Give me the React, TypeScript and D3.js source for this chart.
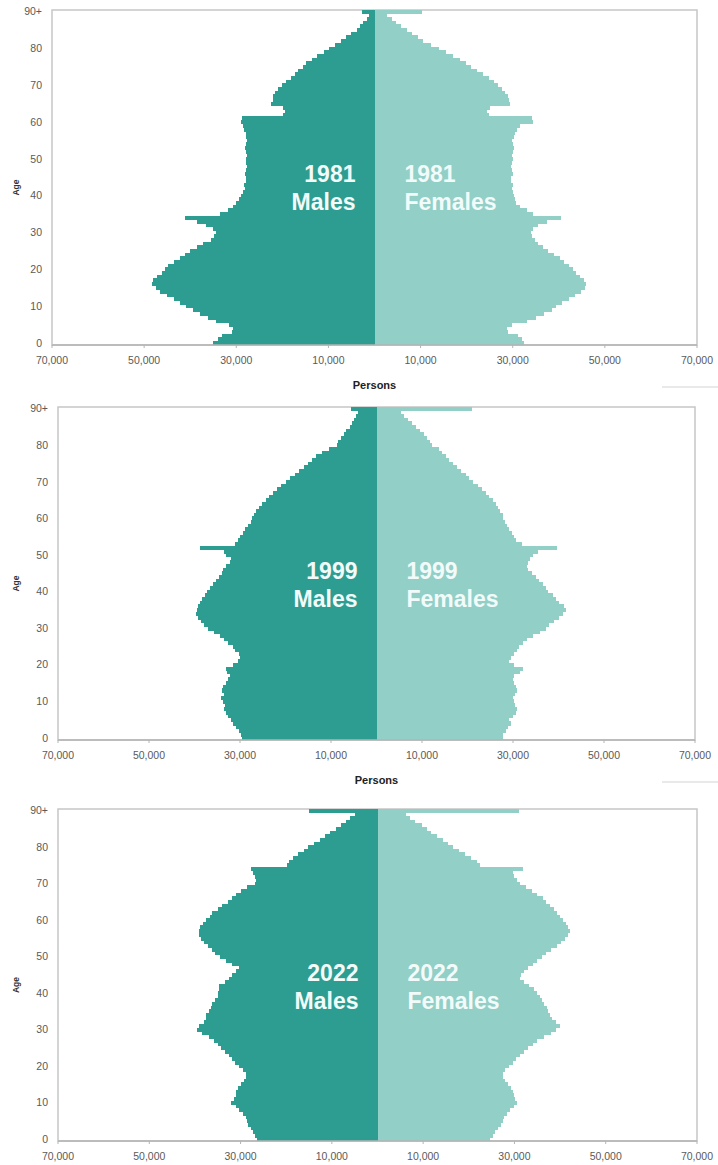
import * as d3 from 'd3';
import React, { useEffect, useRef } from 'react';

// single years of age 0..89, the last entry is 90+
const ages = d3.range(0, 91);
const ageTicks = [0, 10, 20, 30, 40, 50, 60, 70, 80, 90];
// thousands of persons, males drawn to the left
const personTicks = [-70, -50, -30, -10, 10, 30, 50, 70];

// population in thousands, index = age
const males1981 = [
  35.1, 34.0, 33.0, 31.0, 30.8, 31.5, 34.5, 36.2, 37.8, 39.5,
  41.0, 42.3, 43.5, 45.0, 46.5, 47.5, 48.4, 48.0, 47.3, 46.2,
  45.5, 44.8, 43.5, 42.3, 41.2, 40.0, 38.6, 37.2, 35.5, 34.8,
  34.3, 35.0, 36.5, 38.5, 41.1, 33.5, 31.8, 30.8, 30.0, 29.4,
  29.0, 28.6, 28.2, 28.3, 28.0, 27.8, 28.1, 27.9, 27.6, 27.8,
  28.0, 27.7, 27.9, 28.2, 27.8, 27.6, 27.9, 28.0, 28.3, 28.5,
  28.9, 28.8, 19.8, 19.5, 19.9, 22.5, 22.1, 22.0, 21.6, 21.0,
  20.0, 19.2, 18.2, 17.3, 16.6, 15.6, 14.8, 13.6, 12.4, 11.0,
  9.9, 8.6, 7.3, 6.2, 5.0, 3.9, 3.1, 2.4, 1.7, 1.1,
  2.8
];
const females1981 = [
  32.5, 32.0, 31.2, 29.0, 28.8, 29.8, 33.0, 35.1, 36.8, 38.5,
  39.5, 40.8, 42.2, 43.5, 44.8, 45.6, 46.0, 45.5, 44.5, 43.8,
  43.0, 42.2, 41.2, 40.3, 39.0, 37.6, 36.5, 35.5, 34.8, 34.2,
  34.0, 34.3, 35.5, 37.5, 40.5, 34.5, 33.0, 31.5, 30.8, 30.5,
  30.2, 30.0, 29.8, 30.0, 29.7, 29.6, 30.0, 29.8, 29.6, 29.9,
  30.1, 29.8, 30.0, 30.3, 30.0, 29.9, 30.3, 30.5, 30.9, 31.5,
  34.5, 34.2, 24.8, 24.4, 25.0, 29.4, 29.2, 28.9, 28.3, 27.6,
  26.7, 25.9, 24.8, 23.6, 22.3, 21.0, 19.8, 18.5, 17.0, 15.5,
  14.0, 12.3, 10.6, 9.4, 8.2, 7.0, 5.8, 4.7, 3.7, 2.8,
  10.4
];

const males1999 = [
  29.5, 29.8, 30.2, 30.8, 31.5, 32.0, 32.6, 33.0, 33.5, 33.2,
  33.8, 34.1, 33.6, 33.9, 33.8, 33.0, 32.6, 32.3, 32.8, 33.0,
  31.5, 30.5, 30.1, 30.3, 31.0, 31.6, 32.6, 33.5, 34.5, 35.8,
  37.0, 38.0, 38.5, 39.2, 39.6, 39.5, 39.2, 38.9, 38.3, 37.8,
  37.2, 36.7, 36.0, 35.3, 34.6, 34.0, 33.8, 33.0, 32.2, 32.0,
  33.0, 33.5, 38.9, 31.0, 30.5, 30.1, 29.4, 28.8, 28.2, 27.6,
  27.3, 26.9, 26.5, 25.8, 25.1, 24.3, 23.6, 22.8, 21.9, 21.0,
  20.0, 19.1, 18.0, 17.0, 16.0, 15.1, 14.1, 13.2, 12.0, 10.5,
  8.6, 8.4, 7.8, 7.2, 6.6, 5.9, 5.4, 4.9, 4.4, 4.0,
  5.5
];
const females1999 = [
  27.7, 27.9, 28.5, 29.0, 29.5, 29.2, 30.0, 30.7, 30.9, 30.5,
  30.2, 30.0, 30.4, 30.9, 30.7, 30.2, 30.0, 30.3, 31.5, 32.1,
  30.2, 29.2, 29.5, 30.3, 30.9, 31.4, 32.2, 33.0, 34.5, 36.0,
  37.2, 38.0, 39.0, 40.2, 41.0, 41.7, 41.2, 40.2, 39.5, 38.7,
  37.8, 37.2, 36.5, 35.8, 35.0, 34.2, 33.4, 33.0, 33.2, 33.7,
  34.5, 35.5, 39.6, 32.0, 30.7, 30.2, 29.8, 29.2, 28.6, 28.2,
  27.9, 27.7, 27.2, 26.8, 26.3, 25.6, 24.8, 24.0, 23.2, 22.3,
  21.3, 20.4, 19.6, 18.6, 17.7, 16.8, 16.0, 15.3, 14.5, 13.8,
  12.3, 11.8, 11.2, 10.5, 9.5, 8.6, 7.7, 6.9, 6.0, 5.4,
  21.0
];

const males2022 = [
  26.4, 26.8, 27.3, 27.8, 28.3, 28.6, 28.8, 29.5, 30.3, 31.0,
  32.1, 31.5, 31.0, 31.0, 30.5, 30.0, 29.3, 28.9, 28.8, 29.5,
  30.4, 31.2, 31.9, 32.5, 33.4, 34.2, 35.0, 35.8, 37.0, 38.4,
  39.6, 39.0, 38.0, 37.6, 37.6, 37.0, 36.5, 36.2, 35.6, 35.0,
  34.9, 34.7, 34.7, 33.5, 32.5, 31.9, 31.0, 30.3, 31.9, 33.2,
  34.5, 35.6, 36.3, 37.2, 38.0, 38.6, 39.0, 39.1, 38.8, 38.2,
  37.5, 36.8, 36.3, 35.0, 34.0, 32.8, 31.9, 30.9, 29.8, 28.7,
  26.9, 26.6, 26.9, 27.3, 27.7, 19.8, 19.3, 18.6, 17.4, 16.2,
  15.3, 14.0, 12.6, 11.5, 10.3, 9.2, 8.1, 7.0, 6.0, 5.0,
  15.0
];
const females2022 = [
  24.6, 25.2, 25.8, 26.5, 27.0, 27.5, 27.8, 28.4, 29.0, 29.8,
  30.5, 30.2, 29.9, 29.7, 29.2, 28.6, 28.0, 27.6, 27.5, 28.0,
  28.8, 29.6, 30.4, 31.2, 32.2, 33.0, 34.0, 35.0, 36.4, 38.0,
  39.2, 40.0, 39.0, 38.3, 37.8, 37.4, 37.1, 36.5, 36.0, 35.5,
  35.0, 34.2, 33.2, 32.0, 31.2, 31.5, 32.2, 33.0, 34.0, 35.0,
  36.0, 37.0, 38.0, 39.3, 40.2, 41.0, 41.8, 42.2, 41.8, 41.2,
  40.6, 40.0, 39.4, 38.6, 37.8, 37.0, 36.3, 35.0, 33.8, 32.5,
  31.2, 30.5, 30.0, 29.7, 31.9, 22.4, 21.8, 20.5, 19.2, 17.8,
  16.5, 15.4, 14.4, 13.0, 11.8, 10.8, 9.8, 8.3, 7.2, 6.3,
  31.0
];

const MALE_COLOR = '#2e9d91';
const FEMALE_COLOR = '#91cfc7';
const FONT = "'Liberation Sans', Arial, sans-serif";

interface PyramidProps {
  year: string;
  males: number[];
  females: number[];
  top: number;
  bottom: number;
  left: number;
  right: number;
  showPersons?: boolean;
}

function Pyramid({ year, males, females, top, bottom, left, right, showPersons }: PyramidProps) {
  const gRef = useRef<SVGGElement | null>(null);

  useEffect(() => {
    const g = d3.select(gRef.current);
    g.selectAll('*').remove();

    const x = d3.scaleLinear().domain([-70, 70]).range([left, right]);
    const y = d3.scaleBand<number>().domain(ages).range([bottom, top]).padding(0);
    const cx = x(0);
    const bw = y.bandwidth();

    // plot frame
    g.append('rect')
      .attr('x', left)
      .attr('y', top)
      .attr('width', right - left)
      .attr('height', bottom - top)
      .attr('fill', '#fff')
      .attr('stroke', '#c6c6c6')
      .attr('stroke-width', 1.5);

    // bars, crisp so the stacked ages don't show hairlines
    const bars = g.append('g').attr('shape-rendering', 'crispEdges');

    bars
      .selectAll('.male')
      .data(ages)
      .enter()
      .append('rect')
      .attr('class', 'male')
      .attr('x', (a) => x(-males[a]))
      .attr('y', (a) => y(a)! - 0.3)
      .attr('width', (a) => cx - x(-males[a]))
      .attr('height', bw + 0.6)
      .attr('fill', MALE_COLOR);

    bars
      .selectAll('.female')
      .data(ages)
      .enter()
      .append('rect')
      .attr('class', 'female')
      .attr('x', cx)
      .attr('y', (a) => y(a)! - 0.3)
      .attr('width', (a) => x(females[a]) - cx)
      .attr('height', bw + 0.6)
      .attr('fill', FEMALE_COLOR);

    // bottom axis
    g.append('line')
      .attr('x1', left)
      .attr('x2', right)
      .attr('y1', bottom)
      .attr('y2', bottom)
      .attr('stroke', '#b4b4b4')
      .attr('stroke-width', 1.5);

    g.selectAll('.xtick')
      .data(personTicks)
      .enter()
      .append('line')
      .attr('x1', (t) => x(t))
      .attr('x2', (t) => x(t))
      .attr('y1', bottom)
      .attr('y2', bottom + 3)
      .attr('stroke', '#b4b4b4');

    g.selectAll('.xlabel')
      .data(personTicks)
      .enter()
      .append('text')
      .attr('x', (t) => x(t))
      .attr('y', bottom + 19)
      .attr('text-anchor', 'middle')
      .style('font-family', FONT)
      .style('font-size', '10.5px')
      .style('fill', '#5a5a5a')
      .text((t) => d3.format(',')(Math.abs(t) * 1000));

    g.selectAll('.ylabel')
      .data(ageTicks)
      .enter()
      .append('text')
      .attr('x', left - 10)
      .attr('y', (a) => y(a)! + bw / 2 + 3.5)
      .attr('text-anchor', 'end')
      .style('font-family', FONT)
      .style('font-size', '10.5px')
      .style('fill', '#5a5a5a')
      .text((a) => (a === 90 ? '90+' : String(a)));

    g.append('text')
      .attr('transform', `translate(${19},${(top + bottom) / 2 + 10}) rotate(-90)`)
      .attr('text-anchor', 'middle')
      .style('font-family', FONT)
      .style('font-size', '8.5px')
      .style('font-weight', 'bold')
      .style('fill', '#333')
      .text('Age');

    if (showPersons) {
      g.append('text')
        .attr('x', cx)
        .attr('y', bottom + 44)
        .attr('text-anchor', 'middle')
        .style('font-family', FONT)
        .style('font-size', '11px')
        .style('font-weight', 'bold')
        .style('fill', '#222')
        .text('Persons');

      g.append('line')
        .attr('x1', 662)
        .attr('x2', 718)
        .attr('y1', bottom + 42)
        .attr('y2', bottom + 42)
        .attr('stroke', '#e2e2e2')
        .attr('stroke-width', 1.5);
    }

    // in-chart labels
    const labels = [
      { text: year, dy: 172, side: 'm' },
      { text: 'Males', dy: 200, side: 'm' },
      { text: year, dy: 172, side: 'f' },
      { text: 'Females', dy: 200, side: 'f' }
    ];
    g.selectAll('.inlabel')
      .data(labels)
      .enter()
      .append('text')
      .attr('x', (d) => (d.side === 'm' ? cx - 19 : cx + 30))
      .attr('y', (d) => top + d.dy)
      .attr('text-anchor', (d) => (d.side === 'm' ? 'end' : 'start'))
      .style('font-family', FONT)
      .style('font-size', '23px')
      .style('font-weight', 'bold')
      .style('fill', '#f2fbfa')
      .text((d) => d.text);
  }, [year, males, females, top, bottom, left, right, showPersons]);

  return <g ref={gRef} />;
}

export default function App() {
  return (
    <div style={{ position: 'absolute', left: 0, top: 0 }}>
      <svg width={718} height={1165} style={{ display: 'block', background: '#fff' }}>
        <Pyramid year="1981" males={males1981} females={females1981} top={10} bottom={345} left={52} right={697} showPersons />
        <Pyramid year="1999" males={males1999} females={females1999} top={407} bottom={740} left={58} right={695} showPersons />
        <Pyramid year="2022" males={males2022} females={females2022} top={809} bottom={1141} left={58} right={697} />
      </svg>
    </div>
  );
}
